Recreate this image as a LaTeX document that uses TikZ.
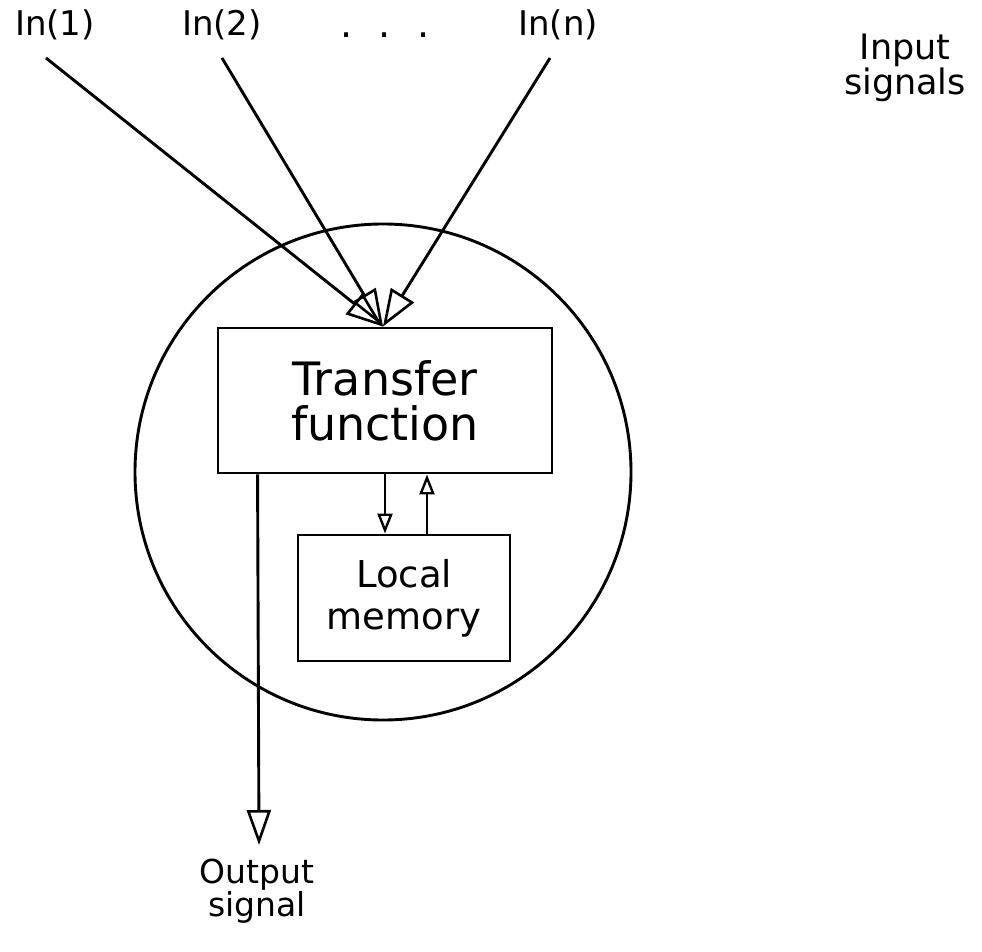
\documentclass[tikz,border=0pt]{standalone}
\usepackage{fontspec}
\setmainfont{DejaVu Sans}
\usetikzlibrary{arrows.meta}
\begin{document}
\begin{tikzpicture}[x=1pt,y=-1pt,line width=2.9pt,
  block/.style={draw,inner sep=0pt,align=center},
  label/.style={align=center,inner sep=0pt},
  intip/.style={-{Triangle[open,length=37pt,width=27pt,line width=2.6pt]}},
  outtip/.style={-{Triangle[open,length=35pt,width=24pt,line width=2.6pt]}},
  smalltip/.style={-{Triangle[open,length=20pt,width=15pt,line width=2.4pt]}}]
\useasboundingbox (0,0) rectangle (982,952);

% neuron body
\draw (383,472) circle[radius=248];

% processing blocks
\node[block,minimum width=334pt,minimum height=145pt,
      font=\fontsize{46}{45}\selectfont] (tf) at (385,400.5) {Transfer\\function};
\node[block,minimum width=212pt,minimum height=126pt,
      font=\fontsize{37}{42}\selectfont] (lm) at (404,598) {Local\\memory};

% input labels
\node[label,anchor=base,font=\fontsize{34}{34}\selectfont] (in1) at (55,36) {In(1)};
\node[label,anchor=base,font=\fontsize{34}{34}\selectfont] (in2) at (222,36) {In(2)};
\node[label,anchor=base,font=\fontsize{38}{38}\selectfont] (dots) at (385,38) {.\hspace{0.7em}.\hspace{0.7em}.};
\node[label,anchor=base,font=\fontsize{34}{34}\selectfont] (inn) at (558,36) {In(n)};
\node[label,font=\fontsize{35}{30}\selectfont] (insig) at (905,68) {Input\\signals};

% input connections converging on the transfer block
\coordinate (hub) at ([xshift=-2pt]tf.north);
\coordinate (s1) at (46,58);
\coordinate (s2) at (222,58);
\coordinate (sn) at (550,58);
\draw[intip] (s1) -- (hub);
\draw[intip] (s2) -- (hub);
\draw[intip] (sn) -- (hub);

% exchange with local memory
\draw[smalltip] (tf.south) -- (tf.south |- lm.north);
\coordinate (up) at ([xshift=23pt]lm.north);
\draw[smalltip] (up) -- (up |- tf.south);

% output
\coordinate (outstart) at ([xshift=41pt]tf.south west);
\coordinate (outend) at (259,845);
\draw[outtip] (outstart) -- (outend);
\node[label,font=\fontsize{33}{31}\selectfont] (outsig) at (257,891) {Output\\signal};
\end{tikzpicture}
\end{document}
